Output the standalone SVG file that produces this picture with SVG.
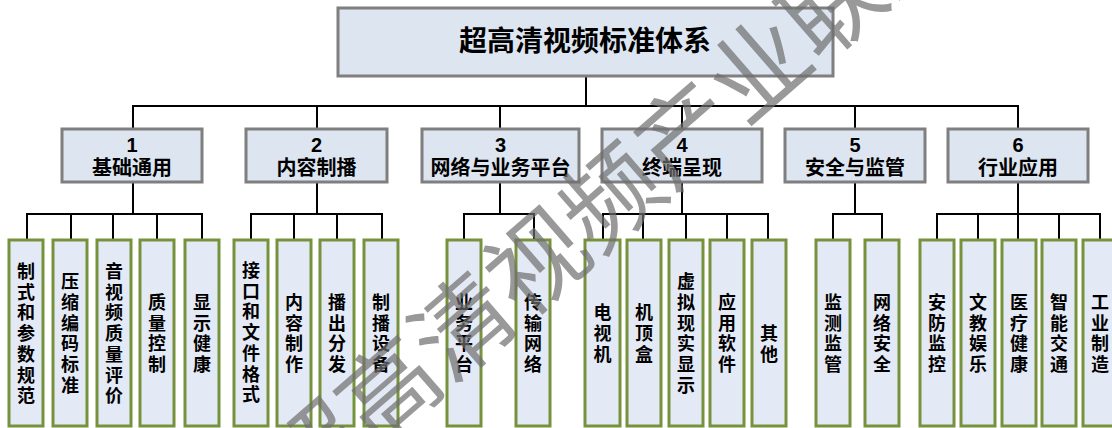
<svg xmlns="http://www.w3.org/2000/svg" width="1112" height="428" viewBox="0 0 1112 428">
<style>
.top{fill:#DDE5F1;stroke:#7F7F7F;stroke-width:3}
.cat{fill:#DDE5F1;stroke:#7F7F7F;stroke-width:3}
.leaf{fill:#E4EAF5;stroke:#76923C;stroke-width:3}
.t{font-family:"Liberation Sans","Noto Sans CJK SC",sans-serif;fill:#000;text-anchor:middle;dominant-baseline:central}
.tt{font-size:28px;font-weight:bold}
.ct{font-size:20px;font-weight:bold}
.lt{font-size:18px;font-weight:bold}
.con line{stroke:#000;stroke-width:2}
.wm{font-family:"Noto Sans CJK SC",sans-serif;font-size:98px;fill:#6f6f6f;opacity:0.7;text-anchor:middle;dominant-baseline:central}
</style>
<rect width="1112" height="428" fill="#fff"/>
<g id="connectors" class="con">
<line x1="586" y1="76" x2="586" y2="106"/>
<line x1="132" y1="106" x2="1019" y2="106"/>
<line x1="133" y1="106" x2="133" y2="129"/>
<line x1="317" y1="106" x2="317" y2="129"/>
<line x1="500" y1="106" x2="500" y2="129"/>
<line x1="682" y1="106" x2="682" y2="129"/>
<line x1="855" y1="106" x2="855" y2="129"/>
<line x1="1018" y1="106" x2="1018" y2="129"/>
<line x1="133" y1="182" x2="133" y2="214"/>
<line x1="26" y1="214" x2="203" y2="214"/>
<line x1="27" y1="214" x2="27" y2="240"/>
<line x1="71" y1="214" x2="71" y2="240"/>
<line x1="113" y1="214" x2="113" y2="240"/>
<line x1="157" y1="214" x2="157" y2="240"/>
<line x1="202" y1="214" x2="202" y2="240"/>
<line x1="317" y1="182" x2="317" y2="214"/>
<line x1="250" y1="214" x2="383" y2="214"/>
<line x1="251" y1="214" x2="251" y2="240"/>
<line x1="294" y1="214" x2="294" y2="240"/>
<line x1="337" y1="214" x2="337" y2="240"/>
<line x1="382" y1="214" x2="382" y2="240"/>
<line x1="500" y1="182" x2="500" y2="214"/>
<line x1="463" y1="214" x2="535" y2="214"/>
<line x1="464" y1="214" x2="464" y2="240"/>
<line x1="534" y1="214" x2="534" y2="240"/>
<line x1="682" y1="182" x2="682" y2="214"/>
<line x1="602" y1="214" x2="769" y2="214"/>
<line x1="603" y1="214" x2="603" y2="240"/>
<line x1="643" y1="214" x2="643" y2="240"/>
<line x1="686" y1="214" x2="686" y2="240"/>
<line x1="727" y1="214" x2="727" y2="240"/>
<line x1="768" y1="214" x2="768" y2="240"/>
<line x1="855" y1="182" x2="855" y2="214"/>
<line x1="832" y1="214" x2="883" y2="214"/>
<line x1="833" y1="214" x2="833" y2="240"/>
<line x1="882" y1="214" x2="882" y2="240"/>
<line x1="1018" y1="182" x2="1018" y2="214"/>
<line x1="936" y1="214" x2="1101" y2="214"/>
<line x1="937" y1="214" x2="937" y2="240"/>
<line x1="978" y1="214" x2="978" y2="240"/>
<line x1="1018" y1="214" x2="1018" y2="240"/>
<line x1="1059" y1="214" x2="1059" y2="240"/>
<line x1="1100" y1="214" x2="1100" y2="240"/>
</g>
<g id="root"><rect class="top" x="338" y="8" width="495" height="68"/><text class="t tt" x="585" y="41">超高清视频标准体系</text></g>
<g id="cat1"><rect class="cat" x="62" y="129" width="140" height="53"/><text class="t ct" x="132" y="145">1</text><text class="t ct" x="132" y="168">基础通用</text></g>
<g id="cat2"><rect class="cat" x="246" y="129" width="141" height="53"/><text class="t ct" x="316.5" y="145">2</text><text class="t ct" x="316.5" y="168">内容制播</text></g>
<g id="cat3"><rect class="cat" x="422" y="129" width="157" height="53"/><text class="t ct" x="500.5" y="145">3</text><text class="t ct" x="500.5" y="168">网络与业务平台</text></g>
<g id="cat4"><rect class="cat" x="602" y="129" width="160" height="53"/><text class="t ct" x="682" y="145">4</text><text class="t ct" x="682" y="168">终端呈现</text></g>
<g id="cat5"><rect class="cat" x="785" y="129" width="140" height="53"/><text class="t ct" x="855" y="145">5</text><text class="t ct" x="855" y="168">安全与监管</text></g>
<g id="cat6"><rect class="cat" x="948" y="129" width="140" height="53"/><text class="t ct" x="1018" y="145">6</text><text class="t ct" x="1018" y="168">行业应用</text></g>

<g id="l1-1"><rect class="leaf" x="9" y="240" width="34" height="186"/><text class="t lt"><tspan x="26" y="272">制</tspan><tspan x="26" dy="20.7">式</tspan><tspan x="26" dy="20.7">和</tspan><tspan x="26" dy="20.7">参</tspan><tspan x="26" dy="20.7">数</tspan><tspan x="26" dy="20.7">规</tspan><tspan x="26" dy="20.7">范</tspan></text></g>
<g id="l1-2"><rect class="leaf" x="53" y="240" width="34" height="186"/><text class="t lt"><tspan x="70" y="282.2">压</tspan><tspan x="70" dy="20.7">缩</tspan><tspan x="70" dy="20.7">编</tspan><tspan x="70" dy="20.7">码</tspan><tspan x="70" dy="20.7">标</tspan><tspan x="70" dy="20.7">准</tspan></text></g>
<g id="l1-3"><rect class="leaf" x="97" y="240" width="34" height="186"/><text class="t lt"><tspan x="114" y="272">音</tspan><tspan x="114" dy="20.7">视</tspan><tspan x="114" dy="20.7">频</tspan><tspan x="114" dy="20.7">质</tspan><tspan x="114" dy="20.7">量</tspan><tspan x="114" dy="20.7">评</tspan><tspan x="114" dy="20.7">价</tspan></text></g>
<g id="l1-4"><rect class="leaf" x="140" y="240" width="34" height="186"/><text class="t lt"><tspan x="157" y="303">质</tspan><tspan x="157" dy="20.7">量</tspan><tspan x="157" dy="20.7">控</tspan><tspan x="157" dy="20.7">制</tspan></text></g>
<g id="l1-5"><rect class="leaf" x="185" y="240" width="34" height="186"/><text class="t lt"><tspan x="202" y="303">显</tspan><tspan x="202" dy="20.7">示</tspan><tspan x="202" dy="20.7">健</tspan><tspan x="202" dy="20.7">康</tspan></text></g>

<g id="l2-1"><rect class="leaf" x="234" y="240" width="34" height="186"/><text class="t lt"><tspan x="251" y="271">接</tspan><tspan x="251" dy="20.7">口</tspan><tspan x="251" dy="20.7">和</tspan><tspan x="251" dy="20.7">文</tspan><tspan x="251" dy="20.7">件</tspan><tspan x="251" dy="20.7">格</tspan><tspan x="251" dy="20.7">式</tspan></text></g>
<g id="l2-2"><rect class="leaf" x="277" y="240" width="34" height="186"/><text class="t lt"><tspan x="294" y="303">内</tspan><tspan x="294" dy="20.7">容</tspan><tspan x="294" dy="20.7">制</tspan><tspan x="294" dy="20.7">作</tspan></text></g>
<g id="l2-3"><rect class="leaf" x="320" y="240" width="34" height="186"/><text class="t lt"><tspan x="337" y="303">播</tspan><tspan x="337" dy="20.7">出</tspan><tspan x="337" dy="20.7">分</tspan><tspan x="337" dy="20.7">发</tspan></text></g>
<g id="l2-4"><rect class="leaf" x="364" y="240" width="34" height="186"/><text class="t lt"><tspan x="381" y="303">制</tspan><tspan x="381" dy="20.7">播</tspan><tspan x="381" dy="20.7">设</tspan><tspan x="381" dy="20.7">备</tspan></text></g>

<g id="l3-1"><rect class="leaf" x="447" y="240" width="34" height="186"/><text class="t lt"><tspan x="464" y="303">业</tspan><tspan x="464" dy="20.7">务</tspan><tspan x="464" dy="20.7">平</tspan><tspan x="464" dy="20.7">台</tspan></text></g>
<g id="l3-2"><rect class="leaf" x="516" y="240" width="34" height="186"/><text class="t lt"><tspan x="533" y="303">传</tspan><tspan x="533" dy="20.7">输</tspan><tspan x="533" dy="20.7">网</tspan><tspan x="533" dy="20.7">络</tspan></text></g>

<g id="l4-1"><rect class="leaf" x="585" y="240" width="35" height="186"/><text class="t lt"><tspan x="602.5" y="313.3">电</tspan><tspan x="602.5" dy="20.7">视</tspan><tspan x="602.5" dy="20.7">机</tspan></text></g>
<g id="l4-2"><rect class="leaf" x="627" y="240" width="34" height="186"/><text class="t lt"><tspan x="644" y="313.3">机</tspan><tspan x="644" dy="20.7">顶</tspan><tspan x="644" dy="20.7">盒</tspan></text></g>
<g id="l4-3"><rect class="leaf" x="669" y="240" width="34" height="186"/><text class="t lt"><tspan x="686" y="282.2">虚</tspan><tspan x="686" dy="20.7">拟</tspan><tspan x="686" dy="20.7">现</tspan><tspan x="686" dy="20.7">实</tspan><tspan x="686" dy="20.7">显</tspan><tspan x="686" dy="20.7">示</tspan></text></g>
<g id="l4-4"><rect class="leaf" x="710" y="240" width="34" height="186"/><text class="t lt"><tspan x="727" y="303">应</tspan><tspan x="727" dy="20.7">用</tspan><tspan x="727" dy="20.7">软</tspan><tspan x="727" dy="20.7">件</tspan></text></g>
<g id="l4-5"><rect class="leaf" x="752" y="240" width="34" height="186"/><text class="t lt"><tspan x="769" y="334">其</tspan><tspan x="769" dy="20.7">他</tspan></text></g>

<g id="l5-1"><rect class="leaf" x="816" y="240" width="34" height="186"/><text class="t lt"><tspan x="833" y="303">监</tspan><tspan x="833" dy="20.7">测</tspan><tspan x="833" dy="20.7">监</tspan><tspan x="833" dy="20.7">管</tspan></text></g>
<g id="l5-2"><rect class="leaf" x="865" y="240" width="34" height="186"/><text class="t lt"><tspan x="882" y="303">网</tspan><tspan x="882" dy="20.7">络</tspan><tspan x="882" dy="20.7">安</tspan><tspan x="882" dy="20.7">全</tspan></text></g>

<g id="l6-1"><rect class="leaf" x="920" y="240" width="34" height="186"/><text class="t lt"><tspan x="937" y="303">安</tspan><tspan x="937" dy="20.7">防</tspan><tspan x="937" dy="20.7">监</tspan><tspan x="937" dy="20.7">控</tspan></text></g>
<g id="l6-2"><rect class="leaf" x="961" y="240" width="34" height="186"/><text class="t lt"><tspan x="978" y="303">文</tspan><tspan x="978" dy="20.7">教</tspan><tspan x="978" dy="20.7">娱</tspan><tspan x="978" dy="20.7">乐</tspan></text></g>
<g id="l6-3"><rect class="leaf" x="1002" y="240" width="34" height="186"/><text class="t lt"><tspan x="1019" y="303">医</tspan><tspan x="1019" dy="20.7">疗</tspan><tspan x="1019" dy="20.7">健</tspan><tspan x="1019" dy="20.7">康</tspan></text></g>
<g id="l6-4"><rect class="leaf" x="1042" y="240" width="34" height="186"/><text class="t lt"><tspan x="1059" y="303">智</tspan><tspan x="1059" dy="20.7">能</tspan><tspan x="1059" dy="20.7">交</tspan><tspan x="1059" dy="20.7">通</tspan></text></g>
<g id="l6-5"><rect class="leaf" x="1083" y="240" width="34" height="186"/><text class="t lt"><tspan x="1100" y="303">工</tspan><tspan x="1100" dy="20.7">业</tspan><tspan x="1100" dy="20.7">制</tspan><tspan x="1100" dy="20.7">造</tspan></text></g>

<g id="watermark"><text class="wm" transform="translate(606,192) rotate(-41)">超高清视频产业联盟</text></g>
</svg>
